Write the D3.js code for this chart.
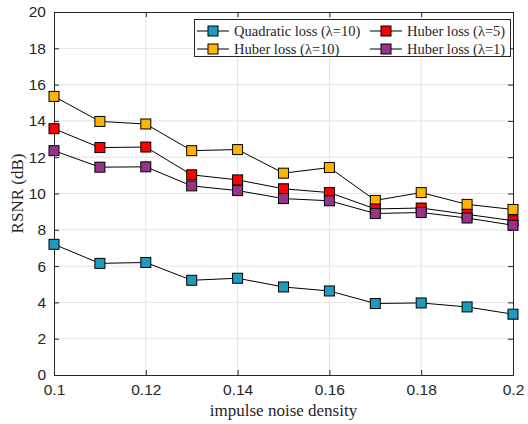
<!DOCTYPE html>
<html lang="en">
<head>
  <meta charset="utf-8">
  <title>RSNR vs impulse noise density</title>
  <script src="https://d3js.org/d3.v7.min.js"></script>
  <style>
    body { margin: 0; background: #fff; }
    .tick text { font-family: "Liberation Sans", Arial, sans-serif; font-size: 15.5px; fill: #262626; }
    .lbl { font-family: "Liberation Serif", "Times New Roman", serif; font-size: 17px; fill: #262626; }
  </style>
</head>
<body>
<div id="chart"></div>
<script>
// noise densities on the x axis
var densities = [0.10, 0.11, 0.12, 0.13, 0.14, 0.15, 0.16, 0.17, 0.18, 0.19, 0.20];

// RSNR (dB) for each method
var quadratic10 = [7.2, 6.15, 6.2, 5.22, 5.33, 4.85, 4.63, 3.94, 3.97, 3.75, 3.35];
var huber10     = [15.35, 13.97, 13.83, 12.36, 12.42, 11.12, 11.43, 9.62, 10.05, 9.4, 9.12];
var huber5      = [13.57, 12.53, 12.56, 11.03, 10.75, 10.26, 10.05, 9.15, 9.2, 8.85, 8.5];
var huber1      = [12.36, 11.45, 11.47, 10.42, 10.16, 9.72, 9.6, 8.9, 8.95, 8.65, 8.25];

var xTicks = [0.1, 0.12, 0.14, 0.16, 0.18, 0.2];
var yTicks = [0, 2, 4, 6, 8, 10, 12, 14, 16, 18, 20];

var series = [
  {name: "Quadratic loss (\u03bb=10)", values: quadratic10, color: "#1f9bbd"},
  {name: "Huber loss (\u03bb=10)", values: huber10, color: "#ffb400"},
  {name: "Huber loss (\u03bb=5)", values: huber5, color: "#ff0000"},
  {name: "Huber loss (\u03bb=1)", values: huber1, color: "#973489"}
];

var W = 528, H = 424;
var m = {top: 12, right: 15, bottom: 49, left: 54};
var w = W - m.left - m.right, h = H - m.top - m.bottom;

var svg = d3.select("#chart").append("svg")
  .attr("width", W).attr("height", H);
var g = svg.append("g").attr("transform", "translate(" + m.left + "," + m.top + ")");

var x = d3.scaleLinear().domain([0.1, 0.2]).range([0, w]);
var y = d3.scaleLinear().domain([0, 20]).range([h, 0]);

// grid
g.append("g").selectAll("line").data(xTicks.slice(1, -1)).enter().append("line")
  .attr("x1", d => x(d)).attr("x2", d => x(d)).attr("y1", 0).attr("y2", h)
  .attr("stroke", "#e3e3e3").attr("stroke-width", 1);
g.append("g").selectAll("line").data(yTicks.slice(1, -1)).enter().append("line")
  .attr("y1", d => y(d)).attr("y2", d => y(d)).attr("x1", 0).attr("x2", w)
  .attr("stroke", "#e3e3e3").attr("stroke-width", 1);

// axes (ticks pointing inward, box on all sides)
var fmt = d => String(d);
g.append("g").attr("transform", "translate(0," + h + ")")
  .call(d3.axisBottom(x).tickValues(xTicks).tickFormat(fmt).tickSizeInner(-5).tickSizeOuter(0).tickPadding(9));
g.append("g")
  .call(d3.axisLeft(y).tickValues(yTicks).tickFormat(fmt).tickSizeInner(-5).tickSizeOuter(0).tickPadding(8));
g.append("g")
  .call(d3.axisTop(x).tickValues(xTicks).tickFormat("").tickSizeInner(-5).tickSizeOuter(0));
g.append("g").attr("transform", "translate(" + w + ",0)")
  .call(d3.axisRight(y).tickValues(yTicks).tickFormat("").tickSizeInner(-5).tickSizeOuter(0));
g.selectAll(".domain").attr("stroke", "#262626");
g.selectAll(".tick line").attr("stroke", "#262626");

// lines and markers
var line = d3.line().x((d, i) => x(densities[i])).y(d => y(d));
var ms = 10;
series.forEach(function(s) {
  g.append("path").datum(s.values).attr("d", line)
    .attr("fill", "none").attr("stroke", "#000").attr("stroke-width", 1);
});
series.forEach(function(s) {
  g.append("g").selectAll("rect").data(s.values).enter().append("rect")
    .attr("x", (d, i) => x(densities[i]) - ms / 2)
    .attr("y", d => y(d) - ms / 2)
    .attr("width", ms).attr("height", ms)
    .attr("fill", s.color).attr("stroke", "#000").attr("stroke-width", 1);
});

// axis labels
svg.append("text").attr("class", "lbl")
  .attr("x", m.left + w / 2).attr("y", 416).attr("text-anchor", "middle")
  .text("impulse noise density");
svg.append("text").attr("class", "lbl")
  .attr("transform", "translate(23," + (m.top + h / 2) + ") rotate(-90)")
  .attr("text-anchor", "middle")
  .text("RSNR (dB)");

// legend
var leg = svg.append("g");
leg.append("rect").attr("x", 194.5).attr("y", 19.5).attr("width", 316).attr("height", 37)
  .attr("fill", "#fff").attr("stroke", "#262626").attr("stroke-width", 1);
var legOrder = [series[0], series[2], series[1], series[3]];
legOrder.forEach(function(s, i) {
  var lx = i % 2 === 0 ? 197 : 370;
  var ly = i < 2 ? 31 : 49;
  leg.append("line").attr("x1", lx).attr("x2", lx + 32).attr("y1", ly).attr("y2", ly)
    .attr("stroke", "#000").attr("stroke-width", 1);
  leg.append("rect").attr("x", lx + 16 - ms / 2).attr("y", ly - ms / 2)
    .attr("width", ms).attr("height", ms)
    .attr("fill", s.color).attr("stroke", "#000");
  leg.append("text").attr("class", "lbl").attr("x", lx + 37).attr("y", ly + 5)
    .style("font-size", "14.5px").text(s.name);
});
</script>
</body>
</html>
